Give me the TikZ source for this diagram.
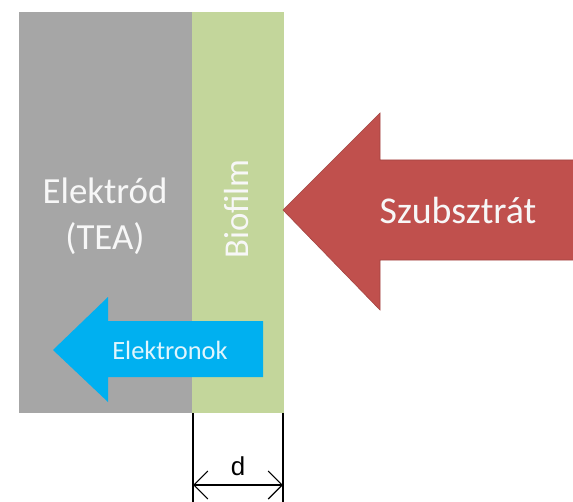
\documentclass[tikz,border=0pt]{standalone}
\usepackage{fontspec}
\setmainfont{Carlito}
\newfontfamily\arialfont{Liberation Sans}
\usepackage{xcolor}
\usepackage{tikz}
\usetikzlibrary{positioning,arrows.meta}

\definecolor{electrodegray}{HTML}{A6A6A6}
\definecolor{biofilmgreen}{HTML}{C3D69B}
\definecolor{substratered}{HTML}{C0504D}
\definecolor{electronblue}{HTML}{00B0F0}

\tikzset{
  label text/.style={text=white!94!gray, font=\fontsize{37}{44}\selectfont, inner sep=0pt},
  dimline/.style={line width=1.1bp, black},
  dimtip/.tip={Straight Barb[length=14bp,width=28bp,line width=1.1bp]},
}

\begin{document}
\begin{tikzpicture}[x=1bp, y=-1bp]
\useasboundingbox (0,0) rectangle (573,502);
% Electrode and biofilm layers
\fill[electrodegray] (19,12) rectangle (192,413);
\fill[biofilmgreen] (192,12) rectangle (284,413);

% Substrate arrow
\fill[substratered, draw=substratered!85!black, line width=0.6bp]
  (283,210) -- (380,113) -- (380,160) -- (575,160) -- (575,260)
  -- (380,260) -- (380,310) -- cycle;

% Electron arrow
\fill[electronblue] (53,350) -- (108,297) -- (108,321) -- (263,321)
  -- (263,377) -- (108,377) -- (108,402) -- cycle;

% Labels
\node[label text, align=center] (electrode) at (105,216) {Elektród\\[2bp](TEA)};
\node[label text, rotate=90, font=\fontsize{35}{42}\selectfont] (biofilm) at (237,209) {Biofilm};
\node[label text, font=\fontsize{38}{44}\selectfont] (substrate) at (458,210) {Szubsztrát};
\node[text=white!88!cyan, font=\fontsize{26.5}{30}\selectfont, inner sep=0pt]
  (electrons) at (170,350) {Elektronok};

% Thickness d
\coordinate (dl top) at (193,413);
\coordinate (dl bot) at (193,502);
\coordinate (dr top) at (283,413);
\coordinate (dr bot) at (283,502);
\draw[dimline] (dl top) -- (dl bot);
\draw[dimline] (dr top) -- (dr bot);
\coordinate (dl mid) at (193,485);
\coordinate (dr mid) at (283,485);
\draw[dimline, dimtip-dimtip] (dl mid) -- (dr mid);
\node[font=\arialfont\fontsize{26}{30}\selectfont, inner sep=0pt] (thickness) at (238,466) {d};
\end{tikzpicture}
\end{document}
